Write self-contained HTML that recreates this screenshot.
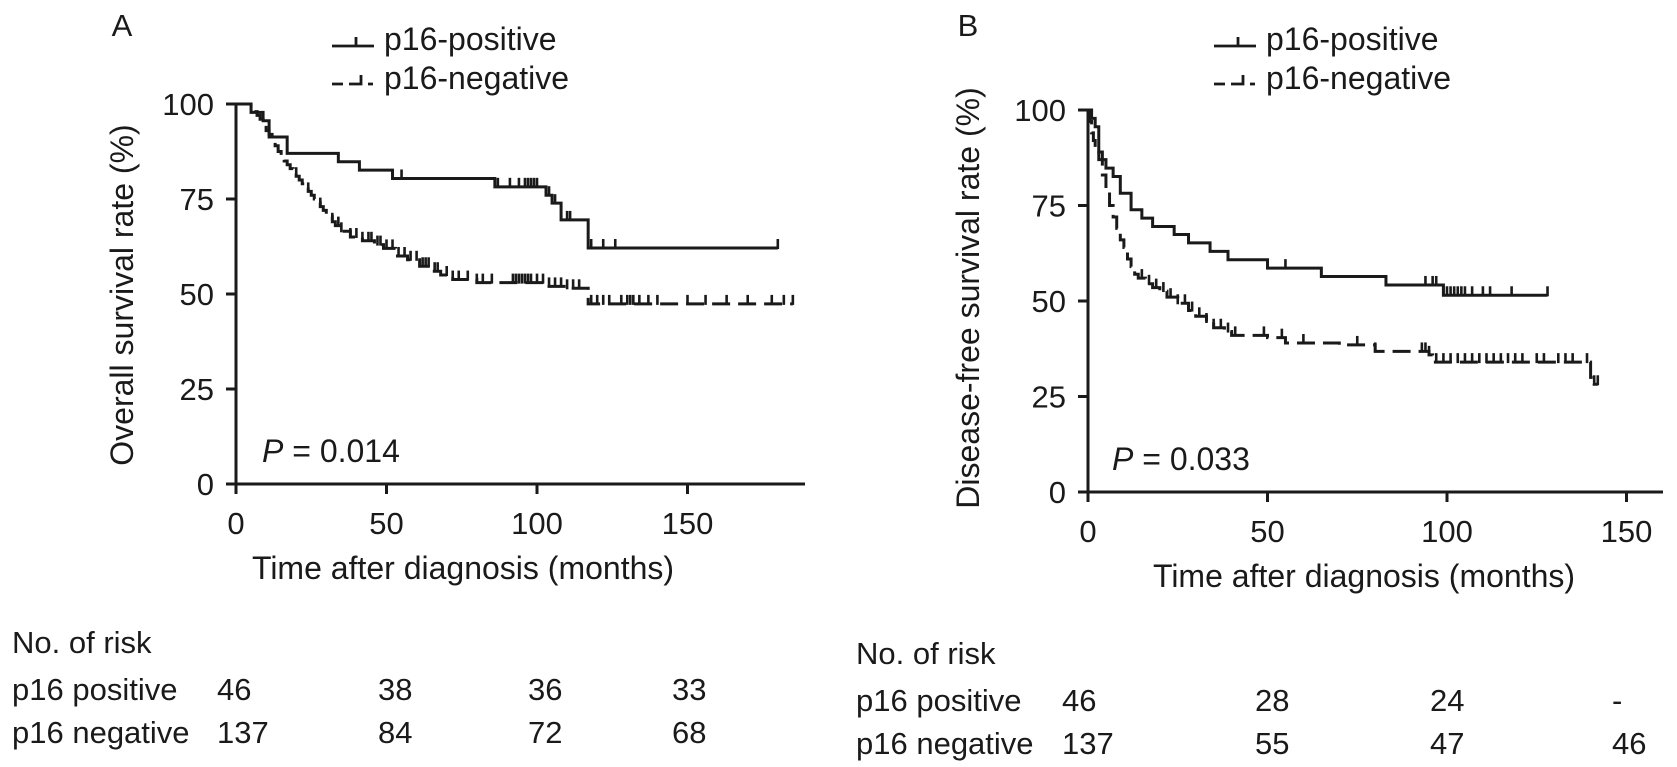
<!DOCTYPE html>
<html><head><meta charset="utf-8"><style>
html,body{margin:0;padding:0;background:#fff;}
svg{display:block;font-family:"Liberation Sans",Arial,sans-serif;fill:#1a1a1a;}
</style></head><body>
<svg id="chart" width="1677" height="767" viewBox="0 0 1677 767" xmlns="http://www.w3.org/2000/svg">
<g id="gA"></g>
<g id="gB"></g>
</svg>
<script>
// ---------- Panel A data (overall survival) ----------
const aTicksX = [0, 50, 100, 150];
const aTicksY = [0, 25, 50, 75, 100];
const aPosT = [5, 9, 11, 17, 34, 41, 52, 86, 103, 105, 108, 117];
const aPosS = [97.8, 95.6, 91.3, 87, 84.8, 82.6, 80.4, 78.2, 76, 73.9, 69.5, 62.1];
const aPosEnd = 180;
const aPosCens = [55, 87, 91, 94, 96, 97, 98, 99, 100, 104, 106, 110, 111, 118, 122, 126, 180];
const aNegT = [5, 6, 7, 8, 9, 10, 11, 12, 13, 14, 15, 16, 17, 18, 19, 20, 21, 22, 23, 24, 25, 26, 27, 28, 29, 30, 31, 32, 33, 35, 38, 42, 46, 49, 53, 57, 61, 65, 68, 72, 80, 104, 110, 117];
const aNegS = [99, 98, 97, 96, 95, 93, 92, 91, 89, 87.5, 86, 85, 84, 83, 82, 81, 80, 79, 78.3, 77, 76, 75, 74, 73, 72, 71, 70.4, 69, 68, 66.5, 65, 64, 63, 62, 60, 59, 57.3, 56, 55, 53.8, 53, 52, 51.5, 47.4];
const aNegEnd = 185;
const aNegCens = [20, 24, 28, 32, 34, 35, 38, 40, 42, 44, 45, 47, 48, 50, 52, 54, 56, 58, 60, 62, 63, 64, 66, 67, 70, 72, 74, 77, 80, 82, 85, 92, 93, 94, 95, 96, 97, 98, 100, 102, 104, 106, 108, 110, 112, 114, 118, 120, 122, 124, 128, 130, 131, 132, 134, 137, 140, 150, 156, 163, 170, 178, 182, 185];
const aRiskPos = ["46", "38", "36", "33"];
const aRiskNeg = ["137", "84", "72", "68"];

// ---------- Panel B data (disease-free survival) ----------
const bTicksX = [0, 50, 100, 150];
const bTicksY = [0, 25, 50, 75, 100];
const bPosT = [1, 2, 3, 4, 5, 7, 9, 12, 15, 18, 24, 28, 34, 39, 50, 65, 83, 99];
const bPosS = [97.8, 95.6, 89, 87, 84.8, 82.6, 78.2, 73.9, 71.7, 69.5, 67.4, 65.2, 63, 60.8, 58.6, 56.4, 54.2, 51.5];
const bPosEnd = 128;
const bPosCens = [55, 94, 96, 97, 99, 100, 101, 102, 103, 104, 105, 107, 110, 112, 118, 128];
const bNegT = [0.5, 1, 1.5, 2, 3, 4, 5, 6, 7, 8, 9, 10, 11, 12, 13, 14, 16, 18, 20, 22, 25, 28, 30, 33, 35, 38, 40, 50, 55, 70, 80, 95, 96, 140, 141];
const bNegS = [97, 94, 92, 90, 87, 83, 79, 75, 72, 69, 66, 64, 61, 59, 57, 56, 54.5, 53.5, 52.6, 51, 49.4, 47.5, 46, 44.5, 43, 42, 41, 40.4, 39, 38.5, 36.8, 35.9, 34, 30, 28.2];
const bNegEnd = 142;
const bNegCens = [15, 17, 19, 21, 23, 25, 27, 29, 31, 33, 35, 37, 39, 41, 49, 54, 60, 75, 80, 93, 94, 95, 97, 99, 101, 103, 105, 107, 109, 111, 113, 115, 117, 119, 121, 125, 127, 131, 133, 135, 139, 141, 142];
const bRiskPos = ["46", "28", "24", "-"];
const bRiskNeg = ["137", "55", "47", "46"];

const NS = "http://www.w3.org/2000/svg";
function mk(parent, tag, attrs, txt) {
  const e = document.createElementNS(NS, tag);
  for (const k in attrs) e.setAttribute(k, attrs[k]);
  if (txt !== undefined) e.textContent = txt;
  parent.appendChild(e);
  return e;
}
function survAt(T, S, t) { let s = 100; for (let i = 0; i < T.length; i++) if (T[i] <= t) s = S[i]; return s; }
function stepPath(T, S, end, x, y) {
  let d = "M" + x(0) + "," + y(100);
  for (let i = 0; i < T.length; i++) d += " H" + x(T[i]) + " V" + y(S[i]);
  d += " H" + x(end);
  return d;
}

function panel(g, cfg) {
  const x = t => cfg.x0 + t * cfg.kx;
  const y = s => cfg.y0 - s * cfg.ky;
  const ax = mk(g, "path", {d: "M" + cfg.x0 + "," + y(100) + " V" + cfg.y0 + " H" + cfg.xEnd, stroke: "#1a1a1a", "stroke-width": 3, fill: "none"});
  
  
  cfg.ticksY.forEach(v => {
    const t = mk(g, "line", {x1: cfg.x0 - 10, x2: cfg.x0, y1: y(v), y2: y(v), stroke: "#1a1a1a", "stroke-width": 3});
    
    
    const l = mk(g, "text", {x: cfg.x0 - 22, y: y(v) + 11, "text-anchor": "end", "font-size": 31}, String(v));
    
    
  });
  cfg.ticksX.forEach(v => {
    const t = mk(g, "line", {x1: x(v), x2: x(v), y1: cfg.y0, y2: cfg.y0 + 10, stroke: "#1a1a1a", "stroke-width": 3});
    
    
    const l = mk(g, "text", {x: x(v), y: cfg.y0 + 50, "text-anchor": "middle", "font-size": 31}, String(v));
    
    
  });
  const series = [
    {T: cfg.posT, S: cfg.posS, end: cfg.posEnd, C: cfg.posCens, dash: "none", name: "p16-positive-curve"},
    {T: cfg.negT, S: cfg.negS, end: cfg.negEnd, C: cfg.negCens, dash: "18 8", name: "p16-negative-curve"}
  ];
  series.forEach(sr => {
    const p = mk(g, "path", {d: stepPath(sr.T, sr.S, sr.end, x, y), stroke: "#1a1a1a", "stroke-width": 3, fill: "none", "stroke-dasharray": sr.dash});
    
    
    sr.C.forEach(c => {
      const yy = y(survAt(sr.T, sr.S, c));
      const m = mk(g, "line", {x1: x(c), x2: x(c), y1: yy + 1, y2: yy - 9, stroke: "#1a1a1a", "stroke-width": 2.6});
      
      
    });
  });
  const pl = mk(g, "text", {x: cfg.labX, y: 36, "text-anchor": "middle", "font-size": 31}, cfg.letter);
  
  
  const l1 = mk(g, "path", {d: "M" + cfg.legX + "," + 46 + " h42 M" + (cfg.legX + 24) + ",46 v-9", stroke: "#1a1a1a", "stroke-width": 2.8, fill: "none"});
  
  
  const t1 = mk(g, "text", {x: cfg.legX + 52, y: 50, "font-size": 32}, "p16-positive");
  
  
  const l2 = mk(g, "path", {d: "M" + cfg.legX + ",84 h11 M" + (cfg.legX + 17) + ",84 h12 v-9 M" + (cfg.legX + 36) + ",84 h5", stroke: "#1a1a1a", "stroke-width": 2.8, fill: "none"});
  
  
  const t2 = mk(g, "text", {x: cfg.legX + 52, y: 89, "font-size": 32}, "p16-negative");
  
  
  const yt = mk(g, "text", {x: 0, y: 0, "text-anchor": "middle", "font-size": 32, transform: "translate(" + (cfg.labX + 11) + "," + cfg.ytY + ") rotate(-90)"}, cfg.yTitle);
  
  
  const xt = mk(g, "text", {x: cfg.xtX, y: cfg.y0 + 95, "text-anchor": "middle", "font-size": 32}, "Time after diagnosis (months)");
  
  
  const pv = mk(g, "text", {x: cfg.pX, y: cfg.pY, "font-size": 32});
  
  
  mk(pv, "tspan", {"font-style": "italic"}, "P");
  mk(pv, "tspan", {}, " = " + cfg.pVal);
  const rt = mk(g, "text", {x: cfg.rX, y: cfg.rY, "font-size": 31}, "No. of risk");
  
  
  const rp = mk(g, "text", {x: cfg.rX, y: cfg.rY + 47, "font-size": 31}, "p16 positive");
  
  
  const rn = mk(g, "text", {x: cfg.rX, y: cfg.rY + 90, "font-size": 31}, "p16 negative");
  
  
  cfg.riskPos.forEach((v, i) => {
    const e = mk(g, "text", {x: cfg.colX[i], y: cfg.rY + 47, "font-size": 31}, v);
    
    
  });
  cfg.riskNeg.forEach((v, i) => {
    const e = mk(g, "text", {x: cfg.colX[i], y: cfg.rY + 90, "font-size": 31}, v);
    
    
  });
}

panel(document.getElementById("gA"), {
  x0: 236, kx: 3.01, y0: 484, ky: 3.8, xEnd: 805,
  ticksX: aTicksX, ticksY: aTicksY,
  posT: aPosT, posS: aPosS, posEnd: aPosEnd, posCens: aPosCens,
  negT: aNegT, negS: aNegS, negEnd: aNegEnd, negCens: aNegCens,
  letter: "A", labX: 122, legX: 332, yTitle: "Overall survival rate (%)", ytY: 295,
  xtX: 463, pX: 262, pY: 462, pVal: "0.014",
  rX: 12, rY: 653, colX: [217, 378, 528, 672], riskPos: aRiskPos, riskNeg: aRiskNeg
});
panel(document.getElementById("gB"), {
  x0: 1088, kx: 3.59, y0: 492, ky: 3.82, xEnd: 1663,
  ticksX: bTicksX, ticksY: bTicksY,
  posT: bPosT, posS: bPosS, posEnd: bPosEnd, posCens: bPosCens,
  negT: bNegT, negS: bNegS, negEnd: bNegEnd, negCens: bNegCens,
  letter: "B", labX: 968, legX: 1214, yTitle: "Disease-free survival rate (%)", ytY: 298,
  xtX: 1364, pX: 1112, pY: 470, pVal: "0.033",
  rX: 856, rY: 664, colX: [1062, 1255, 1430, 1612], riskPos: bRiskPos, riskNeg: bRiskNeg
});
</script>
</body></html>
